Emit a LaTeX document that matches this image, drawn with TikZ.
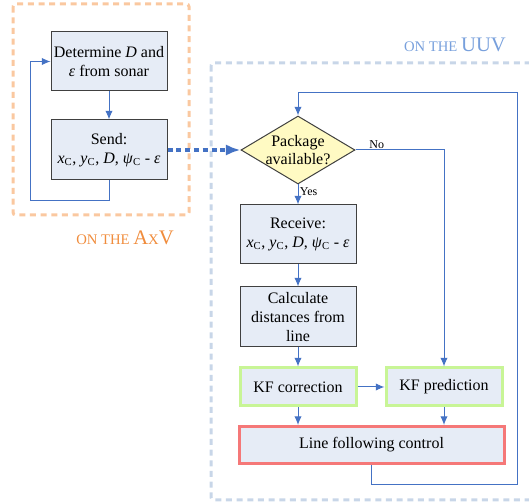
\documentclass[tikz,border=0pt]{standalone}
\usepackage{fontspec}
\setmainfont{Liberation Serif}
\usetikzlibrary{arrows.meta,shapes.geometric}

\definecolor{boxfill}{RGB}{230,236,246}
\definecolor{flowblue}{RGB}{68,114,196}
\definecolor{axvorange}{RGB}{250,200,160}
\definecolor{axvtext}{RGB}{240,140,60}
\definecolor{uuvgray}{RGB}{200,214,232}
\definecolor{uuvtext}{RGB}{120,160,220}
\definecolor{kfgreen}{RGB}{200,245,150}
\definecolor{ctrlred}{RGB}{245,120,120}
\definecolor{pkgyellow}{RGB}{255,250,195}

\newcommand{\vsub}[2]{\textit{#1}\textsubscript{#2}}
\newcommand{\capsmall}[1]{{\fontsize{11}{12}\selectfont #1}}
\newcommand{\capbig}[1]{{\fontsize{15.5}{16}\selectfont #1}}

\tikzset{every picture/.style={line width=0.75pt}}
\tikzset{
	box/.style={draw=black!75, fill=boxfill, align=center, inner sep=1pt, minimum width=87pt, font=\fontsize{12}{14}\selectfont},
	kfbox/.style={box, draw=kfgreen, line width=2.25pt, minimum height=28.5pt},
	ctrlbox/.style={box, draw=ctrlred, line width=2.25pt, minimum height=27.75pt, minimum width=198.75pt},
	decision/.style={diamond, draw=black!75, fill=pkgyellow, inner sep=0pt, minimum width=85.5pt, minimum height=51pt},
	flow/.style={draw=flowblue, -{Latex[length=6.5pt,width=5.5pt]}},
	link/.style={draw=flowblue, line width=2.4pt, dash pattern=on 3.8pt off 2.8pt, -{Latex[length=11pt,width=8.5pt]}},
	small/.style={font=\fontsize{9}{10}\selectfont, inner sep=1pt}
}

\begin{document}
\begin{tikzpicture}[x=0.75pt,y=0.75pt,yscale=-1,xscale=1]
	\useasboundingbox (0,0) rectangle (529,502);
	
	%Shape: Rectangle AxV frame
	\draw [draw=axvorange, line width=2.25pt, dash pattern=on 4.5pt off 3.5pt, rounded corners=2pt] (13,4) rectangle (189,215);
	%Shape: Rectangle UUV frame
	\draw [draw=uuvgray, line width=2.25pt, dash pattern=on 4.5pt off 3.5pt, rounded corners=2pt] (211,63) rectangle (545,500);
	
	% Text Node
	\node [text=axvtext, anchor=base] (axvlbl) at (125,245) {\capsmall{ON THE }\capbig{A}\capsmall{X}\capbig{V}};
	% Text Node
	\node [text=uuvtext, anchor=base] (uuvlbl) at (455,52) {\capsmall{ON THE }\capbig{UUV}};
	
	%Shape: Rectangle
	\node [box, minimum height=44.25pt] (det) at (109,61.5) {Determine \textit{D} and\\\textit{ε} from sonar};
	%Shape: Rectangle
	\node [box, minimum height=45pt] (send) at (109,150) {Send:\\\vsub{x}{C}, \vsub{y}{C}, \textit{D}, \vsub{ψ}{C} - \textit{ε}};
	
	%Shape: Diamond
	\node [decision] (pkg) at (298,150) {};
	\node [align=center, font=\fontsize{12}{14}\selectfont, inner sep=0pt] (pkgtxt) at (pkg.center) {Package\\available?};
	
	%Shape: Rectangle
	\node [box, minimum height=44.25pt] (recv) at (298,234.5) {Receive:\\\vsub{x}{C}, \vsub{y}{C}, \textit{D}, \vsub{ψ}{C} - \textit{ε}};
	%Shape: Rectangle
	\node [box, minimum height=45pt] (calc) at (298,317) {Calculate\\distances from\\line};
	%Shape: Rectangle
	\node [kfbox] (corr) at (298,387) {KF correction};
	%Shape: Rectangle
	\node [kfbox] (pred) at (444,387) {KF prediction};
	%Shape: Rectangle
	\node [ctrlbox] (ctrl) at (371.5,445) {Line following control};
	
	\coordinate (axvloop) at (30,201);
	\coordinate (uuvloop) at (517,485);
	\coordinate (uuvtop) at (298,93);
	
	%Straight Lines
	\draw [flow] (det) -- (send);
	\draw [flow] (send.south) |- (axvloop) |- (det.west);
	%Straight Lines
	\draw [link] (send.east) -- (pkg.west);
	%Straight Lines
	\draw [flow] (pkg.south) -- node [small, right, pos=0.35] (yes) {Yes} (recv.north);
	\draw [flow] (pkg.east) -| node [small, above, pos=0.12] (no) {No} (pred.north);
	\draw [flow] (recv) -- (calc);
	\draw [flow] (calc) -- (corr);
	\draw [flow] (corr) -- (pred);
	\draw [flow] (corr.south) -- (corr.south |- ctrl.north);
	\draw [flow] (pred.south) -- (pred.south |- ctrl.north);
	%Straight Lines
	\draw [flow] (ctrl.south) |- (uuvloop) |- (uuvtop) -- (pkg.north);
	
\end{tikzpicture}
\end{document}
